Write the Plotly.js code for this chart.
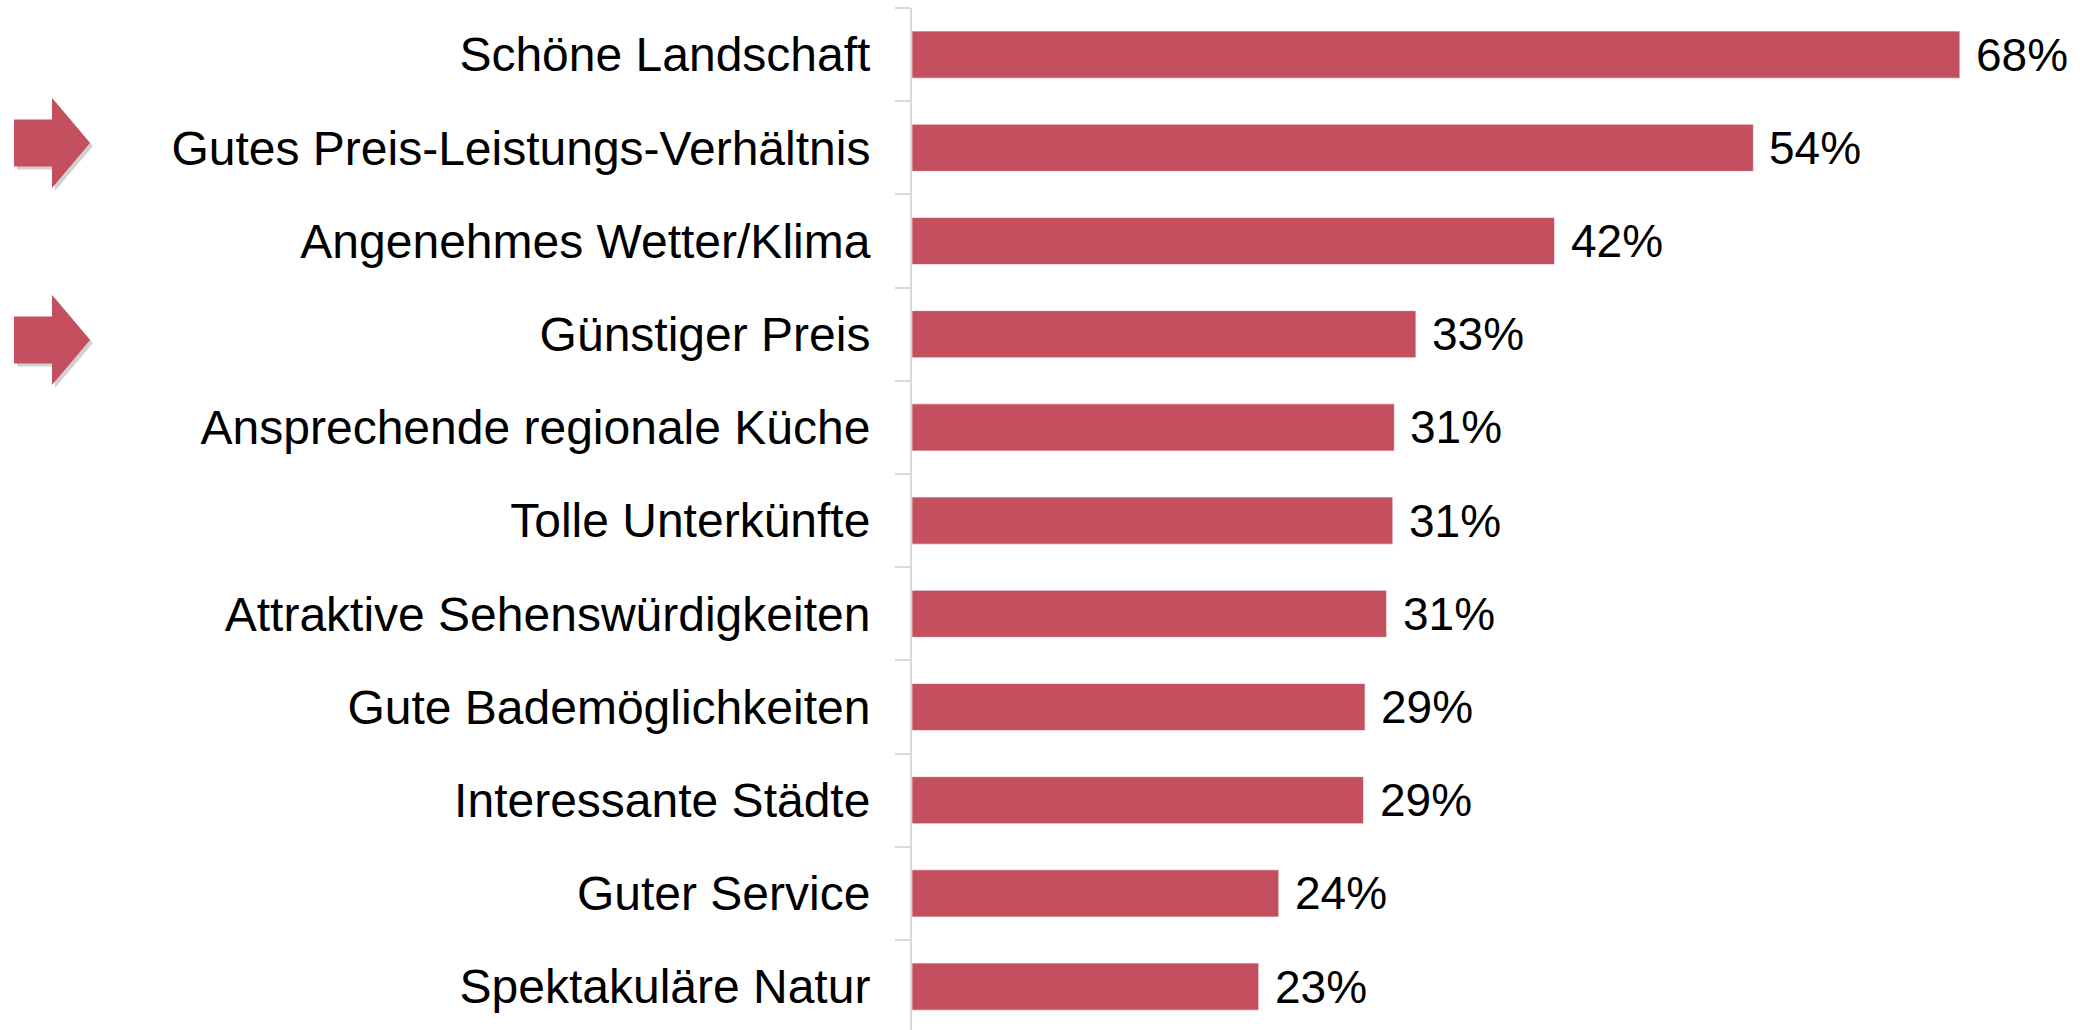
<!DOCTYPE html>
<html>
<head>
<meta charset="utf-8">
<script src="https://cdn.plot.ly/plotly-3.0.1.min.js"></script>
<style>html,body{margin:0;padding:0;background:#fff;}#chart{width:2080px;height:1030px;}</style>
</head>
<body>
<div id="chart"></div>
<script>
const categories = [
  "Schöne Landschaft",
  "Gutes Preis-Leistungs-Verhältnis",
  "Angenehmes Wetter/Klima",
  "Günstiger Preis",
  "Ansprechende regionale Küche",
  "Tolle Unterkünfte",
  "Attraktive Sehenswürdigkeiten",
  "Gute Bademöglichkeiten",
  "Interessante Städte",
  "Guter Service",
  "Spektakuläre Natur"
];
const values = [68.0, 54.6, 41.7, 32.7, 31.3, 31.2, 30.8, 29.4, 29.3, 23.8, 22.5];
const valueLabels = ["68%", "54%", "42%", "33%", "31%", "31%", "31%", "29%", "29%", "24%", "23%"];

const W = 2080, H = 1030;
const M = {l: 912, r: 12, t: 8, b: 0};
const PW = W - M.l - M.r, PH = H - M.t - M.b;
const barColor = "#C44F5E";
const font = "Liberation Sans, Arial, Helvetica, sans-serif";

function toPaper(px, py) {
  return [(px - M.l) / PW, 1 - (py - M.t) / PH];
}
function arrowPath(cy, dx, dy) {
  const pts = [[14, cy - 23.5], [52, cy - 23.5], [52, cy - 45], [90, cy], [52, cy + 45], [52, cy + 23.5], [14, cy + 23.5]];
  return "M" + pts.map(p => toPaper(p[0] + dx, p[1] + dy).join(",")).join(" L") + " Z";
}
const arrowCenters = [143, 340];
const shapes = [];
arrowCenters.forEach(cy => {
  shapes.push({type: "path", xref: "paper", yref: "paper", path: arrowPath(cy, 3, 3), fillcolor: "rgba(0,0,0,0.18)", line: {width: 0}, layer: "above"});
  shapes.push({type: "path", xref: "paper", yref: "paper", path: arrowPath(cy, 0, 0), fillcolor: barColor, line: {width: 0}, layer: "above"});
});

const annotations = categories.map((c, i) => ({
  x: values[i], y: c, xref: "x", yref: "y",
  text: valueLabels[i], showarrow: false,
  xanchor: "left", yanchor: "middle", xshift: 14,
  font: {family: font, size: 46, color: "#000"}
}));

const trace = {
  type: "bar",
  orientation: "h",
  y: categories,
  x: values,
  marker: {color: barColor, line: {color: "rgba(255,255,255,0.6)", width: 1}},
  hoverinfo: "skip"
};

const perCat = 93.2;
const span = PH / perCat;
const layout = {
  width: W, height: H,
  margin: M,
  paper_bgcolor: "#fff", plot_bgcolor: "#fff",
  showlegend: false,
  bargap: 0.495,
  font: {family: font, color: "#000"},
  xaxis: {range: [0, PW / 15.41], visible: false, fixedrange: true},
  yaxis: {
    type: "category",
    categoryorder: "array",
    categoryarray: categories,
    range: [span - 0.5, -0.5],
    showline: true, linecolor: "#d9d9d9", linewidth: 2,
    ticks: "outside", tickson: "boundaries", ticklen: 15, tickcolor: "#d9d9d9", tickwidth: 2,
    ticklabelstandoff: 30,
    tickfont: {family: font, size: 48, color: "#000"},
    showgrid: false, zeroline: false, fixedrange: true
  },
  annotations: annotations,
  shapes: shapes
};
Plotly.newPlot("chart", [trace], layout, {displayModeBar: false, staticPlot: true});
</script>
</body>
</html>
